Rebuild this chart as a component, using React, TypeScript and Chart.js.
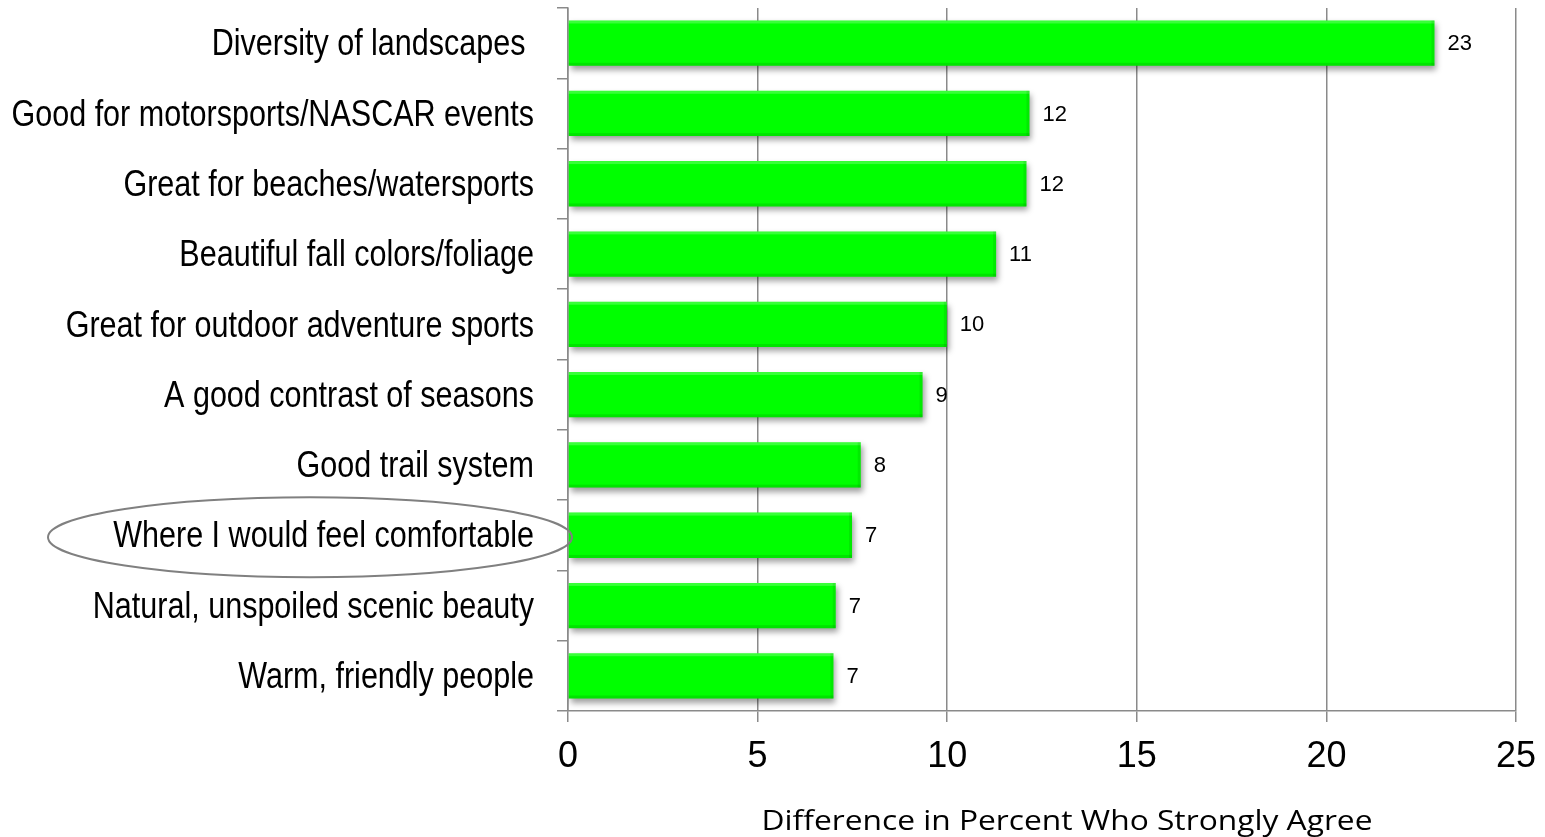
import React, { useEffect, useRef } from 'react';
import { Chart, registerables } from 'chart.js';

Chart.register(...registerables);

const categories = [
  'Diversity of landscapes ',
  'Good for motorsports/NASCAR events',
  'Great for beaches/watersports',
  'Beautiful fall colors/foliage',
  'Great for outdoor adventure sports',
  'A good contrast of seasons',
  'Good trail system',
  'Where I would feel comfortable',
  'Natural, unspoiled scenic beauty',
  'Warm, friendly people',
];
const values = [22.85, 12.17, 12.09, 11.29, 9.99, 9.35, 7.72, 7.49, 7.06, 7.0];
const valueLabels = ['23', '12', '12', '11', '10', '9', '8', '7', '7', '7'];
const xMin = 0;
const xMax = 25;
const xStep = 5;
const xAxisTitle = 'Difference in Percent Who Strongly Agree';
const highlighted = 'Where I would feel comfortable';

const GRID = '#8a8a8a';

const shadowPlugin = {
  id: 'barShadow',
  beforeDatasetsDraw(chart: any) {
    const ctx = chart.ctx;
    ctx.save();
    ctx.shadowColor = 'rgba(0,0,0,0.38)';
    ctx.shadowBlur = 6;
    ctx.shadowOffsetX = 2;
    ctx.shadowOffsetY = 4;
  },
  afterDatasetsDraw(chart: any) {
    const ctx = chart.ctx;
    ctx.restore();
    const meta = chart.getDatasetMeta(0);
    ctx.save();
    meta.data.forEach((el: any, i: number) => {
      const p = el.getProps(['x', 'y', 'base', 'height'], true);
      const top = p.y - p.height / 2;
      const left = p.base;
      const w = p.x - p.base;
      ctx.fillStyle = 'rgba(255,255,255,0.22)';
      ctx.fillRect(left, top, w, 3);
      ctx.fillStyle = 'rgba(0,90,0,0.16)';
      ctx.fillRect(left, top + p.height - 3, w, 3);
      ctx.fillStyle = 'rgba(0,90,0,0.12)';
      ctx.fillRect(p.x - 3, top, 3, p.height);
      ctx.fillStyle = '#000';
      ctx.font = '22px "Liberation Sans", Arial, sans-serif';
      ctx.textBaseline = 'middle';
      ctx.textAlign = 'left';
      ctx.fillText(valueLabels[i], p.x + 13, p.y + 1);
    });
    ctx.restore();
  },
};

const labelsPlugin = {
  id: 'narrowLabels',
  afterDraw(chart: any) {
    const ctx = chart.ctx;
    const yScale = chart.scales.y;
    const area = chart.chartArea;
    ctx.save();
    ctx.fillStyle = '#000';
    ctx.font = '37px "Liberation Sans", Arial, sans-serif';
    ctx.textAlign = 'right';
    ctx.textBaseline = 'middle';
    categories.forEach((label, i) => {
      const y = yScale.getPixelForValue(i);
      ctx.save();
      ctx.translate(area.left - 34, y + 2);
      ctx.scale(0.825, 1);
      ctx.fillText(label, 0, 0);
      ctx.restore();
    });
    const idx = categories.indexOf(highlighted);
    const cy = yScale.getPixelForValue(idx) + 2;
    ctx.strokeStyle = '#808080';
    ctx.lineWidth = 2;
    ctx.beginPath();
    ctx.ellipse(310, cy, 262, 40, 0, 0, Math.PI * 2);
    ctx.stroke();
    ctx.fillStyle = '#000';
    ctx.font = '28px "Open Sans", Lato, sans-serif';
    ctx.textAlign = 'center';
    ctx.textBaseline = 'alphabetic';
    const w = ctx.measureText(xAxisTitle).width;
    const sx = 611 / w;
    ctx.save();
    ctx.translate((area.left + area.right) / 2 + 25, 830);
    ctx.scale(sx, 1);
    ctx.fillText(xAxisTitle, 0, 0);
    ctx.restore();
    ctx.restore();
  },
};

export default function App() {
  const ref = useRef<HTMLCanvasElement | null>(null);

  useEffect(() => {
    if (!ref.current) return;
    const chart = new Chart(ref.current, {
      type: 'bar',
      data: {
        labels: categories,
        datasets: [
          {
            data: values,
            backgroundColor: '#00ff00',
            borderWidth: 0,
            categoryPercentage: 1,
            barPercentage: 0.645,
          },
        ],
      },
      options: {
        indexAxis: 'y',
        responsive: true,
        maintainAspectRatio: false,
        animation: false,
        layout: { padding: { top: 8, right: 29, left: 0, bottom: 0 } },
        plugins: {
          legend: { display: false },
          tooltip: { enabled: false },
        },
        scales: {
          x: {
            min: xMin,
            max: xMax,
            ticks: {
              stepSize: xStep,
              color: '#000',
              font: { family: '"Liberation Sans", Arial, sans-serif', size: 36 },
              padding: 13,
            },
            grid: { color: GRID, lineWidth: 1.5, tickLength: 11, drawTicks: true },
            border: { color: GRID, width: 1.5 },
            afterFit: (s: any) => {
              s.height = 126;
              s.paddingLeft = 0;
              s.paddingRight = 0;
            },
          },
          y: {
            ticks: { display: false },
            grid: { drawOnChartArea: false, color: GRID, lineWidth: 1.5, tickLength: 11, offset: true },
            border: { color: GRID, width: 1.5 },
            afterFit: (s: any) => {
              s.width = 568;
            },
          },
        },
      },
      plugins: [shadowPlugin, labelsPlugin],
    });
    return () => chart.destroy();
  }, []);

  return (
    <div style={{ position: 'fixed', left: 0, top: 0, width: 1545, height: 837, background: '#fff' }}>
      <canvas ref={ref} />
    </div>
  );
}
